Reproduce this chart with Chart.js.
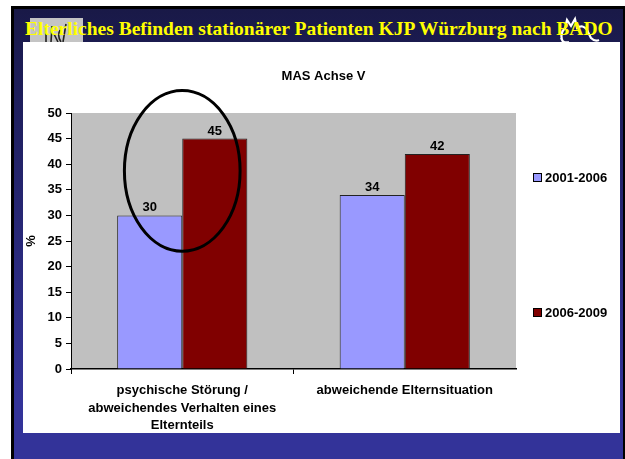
<!DOCTYPE html>
<html>
<head>
<meta charset="utf-8">
<script src="https://cdn.jsdelivr.net/npm/chart.js@4.4.1/dist/chart.umd.min.js"></script>
<style>
  body { margin: 0; background: #fff; width: 625px; height: 459px; overflow: hidden; position: relative; }
  #frame {
    position: absolute; left: 11px; top: 6px; width: 609px; height: 460px;
    border: 3px solid #000; border-bottom: none;
    background: linear-gradient(to bottom, #191947 0%, #1c1c55 12%, #333399 85%, #333399 100%);
  }
  #panel { position: absolute; left: 23px; top: 42px; width: 597px; height: 391px; background: #fff; }
  #slide-title {
    position: absolute; left: 25px; top: 18px; z-index: 5; line-height: 1;
    font: bold 19.5px "Liberation Serif", "Times New Roman", serif; color: #ffff00; white-space: nowrap;
  }
  #logo-left { position: absolute; left: 30px; top: 18px; width: 53px; height: 24px; background: #c4c4c4; }
  #logo-right { position: absolute; left: 553px; top: 16px; }
  canvas { position: absolute; left: 23px; top: 42px; }
</style>
</head>
<body>
<div id="frame"></div>
<div id="logo-left">
  <svg width="53" height="24">
    <path d="M16 10 L16 24 M22 8 L21 24 M24 16 L28 24 M30 12 Q27 18 31 24 M36 6 L33 24" stroke="#222" stroke-width="1.6" fill="none"/>
  </svg>
</div>
<svg id="logo-right" width="50" height="30">
  <path d="M10 26 Q6 18 12 12 L14 4 L18 10 L22 3 L24 12 Q30 8 34 14 L38 22 Q42 26 46 24 M8 22 Q10 28 16 26" stroke="#fff" stroke-width="2.2" fill="none"/>
</svg>
<div id="panel"></div>
<div id="slide-title">Elterliches Befinden stationärer Patienten KJP Würzburg nach BADO</div>
<canvas id="chart" width="597" height="391"></canvas>
<script>
const categories = [
    ["psychische Störung /", "abweichendes Verhalten eines", "Elternteils"],
    ["abweichende Elternsituation"]
];
const series_names = ["2001-2006", "2006-2009"];
const values_2001_2006 = [30, 34];
const values_2006_2009 = [45, 42];
const series_colors = ["#9999FF", "#800000"];
const chart_title = "MAS Achse V";
const y_ticks = [0, 5, 10, 15, 20, 25, 30, 35, 40, 45, 50];

// the hand-drawn ring around the first group, in axis units
const ring_top = 54.4;
const ring_bottom = 23;
const ring_width = 0.26; // share of one category width (half of the ring)

const font_family = '"Liberation Sans", Arial, sans-serif';
Chart.defaults.color = "#000";
Chart.defaults.font.family = font_family;

const plot_background = {
    id: "plot_background",
    beforeDraw(chart) {
        const { ctx, chartArea } = chart;
        ctx.save();
        ctx.fillStyle = "#C0C0C0";
        ctx.fillRect(chartArea.left, chartArea.top, chartArea.right - chartArea.left, chartArea.bottom - chartArea.top);
        ctx.restore();
    }
};

const extras = {
    id: "extras",
    afterDatasetsDraw(chart) {
        const ctx = chart.ctx;
        const x_scale = chart.scales.x;
        const y_scale = chart.scales.y;
        ctx.save();

        // value labels
        ctx.font = "bold 13px " + font_family;
        ctx.textAlign = "center";
        ctx.textBaseline = "alphabetic";
        ctx.fillStyle = "#000";
        chart.data.datasets.forEach((dataset, i) => {
            chart.getDatasetMeta(i).data.forEach((bar, j) => {
                ctx.fillText(dataset.data[j], bar.x, bar.y - 4);
            });
        });

        // ring
        const cat_width = x_scale.getPixelForValue(1) - x_scale.getPixelForValue(0);
        const top = y_scale.getPixelForValue(ring_top);
        const bottom = y_scale.getPixelForValue(ring_bottom);
        ctx.beginPath();
        ctx.ellipse(x_scale.getPixelForValue(0), (top + bottom) / 2, cat_width * ring_width, (bottom - top) / 2, 0, 0, Math.PI * 2);
        ctx.lineWidth = 3;
        ctx.strokeStyle = "#000";
        ctx.stroke();

        // title
        ctx.font = "bold 13px " + font_family;
        ctx.textBaseline = "middle";
        ctx.fillText(chart_title, chart.width / 2 + 2, 34);

        // legend
        ctx.textAlign = "left";
        const legend_y = [136, 271];
        chart.data.datasets.forEach((dataset, i) => {
            ctx.fillStyle = dataset.backgroundColor;
            ctx.fillRect(510.5, legend_y[i] - 4.5, 8, 8);
            ctx.lineWidth = 1;
            ctx.strokeStyle = "#000";
            ctx.strokeRect(510.5, legend_y[i] - 4.5, 8, 8);
            ctx.fillStyle = "#000";
            ctx.fillText(dataset.label, 522, legend_y[i]);
        });
        ctx.restore();
    }
};

new Chart(document.getElementById("chart"), {
    type: "bar",
    data: {
        labels: categories,
        datasets: [
            { label: series_names[0], data: values_2001_2006, backgroundColor: series_colors[0] },
            { label: series_names[1], data: values_2006_2009, backgroundColor: series_colors[1] }
        ]
    },
    options: {
        responsive: false,
        animation: false,
        events: [],
        layout: { padding: { top: 71, right: 104, left: 0, bottom: 0 } },
        datasets: {
            bar: { categoryPercentage: 0.585, barPercentage: 1.0, borderWidth: 1, borderColor: "#222" }
        },
        plugins: { legend: { display: false }, tooltip: { enabled: false } },
        scales: {
            x: {
                grid: {
                    display: true, drawOnChartArea: false, tickLength: 5,
                    color: (c) => c.type === "tick" ? "#000" : "rgba(0,0,0,0)"
                },
                border: { display: true, color: "#000", width: 1.5 },
                ticks: { font: { size: 13, weight: "bold", lineHeight: 1.35 }, padding: 8, maxRotation: 0 },
                afterFit(scale) { scale.height = 64; }
            },
            y: {
                min: 0,
                max: 50,
                afterBuildTicks(scale) { scale.ticks = y_ticks.map(v => ({ value: v })); },
                grid: { display: true, drawOnChartArea: false, tickLength: 5, color: "#000" },
                border: { display: true, color: "#000", width: 1 },
                ticks: { font: { size: 13, weight: "bold" }, padding: 4 },
                title: { display: true, text: "%", font: { size: 13, weight: "bold" }, padding: { top: 1, bottom: 0 } },
                afterFit(scale) { scale.width = 48; }
            }
        }
    },
    plugins: [plot_background, extras]
});
</script>
</body>
</html>
